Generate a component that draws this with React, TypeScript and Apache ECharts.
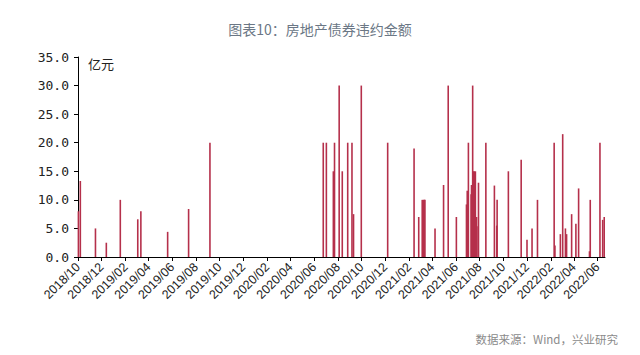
import React, { useEffect, useRef } from "react";
import * as echarts from "echarts";

const title = "图表10：房地产债券违约金额";
const unitLabel = "亿元";
const sourceNote = "数据来源：Wind，兴业研究";

const tickLabels = [
  "2018/10", "2018/12", "2019/02", "2019/04", "2019/06", "2019/08", "2019/10", "2019/12",
  "2020/02", "2020/04", "2020/06", "2020/08", "2020/10", "2020/12", "2021/02", "2021/04",
  "2021/06", "2021/08", "2021/10", "2021/12", "2022/02", "2022/04", "2022/06",
];

const axisStart = "2018-10-01";
const axisEnd = "2022-06-20";

const defaultDates = [
  "2018-10-02", "2018-10-07", "2018-11-15", "2018-12-13", "2019-01-18", "2019-03-04",
  "2019-03-12", "2019-05-20", "2019-07-13", "2019-09-06",
  "2020-06-24", "2020-07-02", "2020-07-20", "2020-07-23", "2020-08-04", "2020-08-12",
  "2020-08-26", "2020-09-06", "2020-09-10", "2020-09-30", "2020-12-07",
  "2021-02-13", "2021-02-25", "2021-03-06", "2021-03-09", "2021-03-11", "2021-03-13",
  "2021-04-08", "2021-04-30", "2021-05-12", "2021-06-02", "2021-06-28", "2021-06-30",
  "2021-07-03", "2021-07-10", "2021-07-11", "2021-07-14", "2021-07-16", "2021-07-18",
  "2021-07-21", "2021-07-24", "2021-07-28", "2021-07-29", "2021-08-17", "2021-09-08",
  "2021-09-14", "2021-09-15", "2021-10-14", "2021-11-16", "2021-12-01", "2021-12-14",
  "2021-12-28", "2022-02-09", "2022-02-11", "2022-02-25", "2022-03-03", "2022-03-10",
  "2022-03-13", "2022-03-26", "2022-04-06", "2022-04-13", "2022-05-11", "2022-05-13",
  "2022-06-07", "2022-06-14", "2022-06-18",
];

const defaultAmounts = [
  8.0, 13.3, 5.0, 2.5, 10.0, 6.6,
  8.0, 4.4, 8.4, 20.0,
  20.0, 20.0, 15.0, 20.0, 30.0, 15.0,
  20.0, 20.0, 7.5, 30.0, 20.0,
  19.0, 7.0, 10.0, 10.0, 10.0, 10.0,
  5.0, 12.6, 30.0, 7.0, 9.2, 11.6,
  20.0, 11.0, 12.6, 30.0, 15.0, 15.0,
  15.0, 7.0, 5.4, 13.0, 20.0, 12.5,
  5.5, 10.0, 15.0, 17.0, 3.0, 5.0,
  10.0, 20.0, 2.0, 4.0, 21.5, 5.0,
  4.0, 7.5, 5.8, 12.0, 1.0, 10.0,
  20.0, 6.5, 7.0,
];

const yTicks = { min: 0, max: 35, interval: 5 };

function ts(s: string): number {
  const [y, m, d] = s.split(/[-/]/).map(Number);
  return new Date(y, m - 1, d || 1).getTime();
}

function fmtMonth(v: number): string {
  const d = new Date(v);
  const m = d.getMonth() + 1;
  return d.getFullYear() + "/" + (m < 10 ? "0" + m : "" + m);
}

export default function App() {
  const ref = useRef<HTMLDivElement>(null);
  useEffect(() => {
    document.body.style.margin = "0";
    if (!ref.current) return;
    const chart = echarts.init(ref.current, null, { renderer: "svg" });
    const tickValues = tickLabels.map(ts);
    const barColor = "#b5304b";
    chart.setOption({
      animation: false,
      backgroundColor: "#ffffff",
      title: {
        text: title,
        left: "center",
        top: 17,
        textStyle: {
          fontFamily: "Noto Sans CJK SC",
          fontSize: 14,
          fontWeight: "normal",
          color: "#6b7785",
        },
      },
      grid: { left: 78, right: 35, top: 57, bottom: 98, containLabel: false },
      xAxis: {
        type: "value",
        min: ts(axisStart),
        max: ts(axisEnd),
        axisLine: { show: true, lineStyle: { color: "#000", width: 1 } },
        axisTick: {
          show: true,
          length: 4,
          inside: false,
          customValues: tickValues,
          lineStyle: { color: "#000" },
        },
        axisLabel: {
          customValues: tickValues,
          rotate: 45,
          margin: 8,
          fontFamily: "Liberation Sans",
          fontSize: 12.5,
          color: "#222",
          formatter: (v: number) => fmtMonth(v),
        },
        splitLine: { show: false },
      },
      yAxis: {
        type: "value",
        min: yTicks.min,
        max: yTicks.max,
        interval: yTicks.interval,
        axisLine: { show: true, lineStyle: { color: "#000", width: 1 } },
        axisTick: { show: true, length: 4, inside: false, lineStyle: { color: "#000" } },
        axisLabel: {
          margin: 9,
          fontFamily: "DejaVu Sans Mono",
          fontSize: 13,
          color: "#222",
          formatter: (v: number) => v.toFixed(1),
        },
        splitLine: { show: false },
      },
      series: [
        {
          type: "bar",
          barWidth: 1.6,
          itemStyle: { color: barColor },
          data: defaultDates.map((d, i) => [ts(d), defaultAmounts[i]]),
        },
      ],
      graphic: [
        {
          type: "text",
          left: 88,
          top: 57,
          style: {
            text: unitLabel,
            fontFamily: "Noto Sans CJK SC",
            fontSize: 13,
            fill: "#222",
          },
        },
        {
          type: "text",
          right: 22,
          top: 333,
          style: {
            text: sourceNote,
            fontFamily: "Noto Sans CJK SC",
            fontSize: 11.5,
            fill: "#8a8a8a",
          },
        },
      ],
    });
    return () => chart.dispose();
  }, []);
  return <div ref={ref} style={{ width: 640, height: 355 }} />;
}
